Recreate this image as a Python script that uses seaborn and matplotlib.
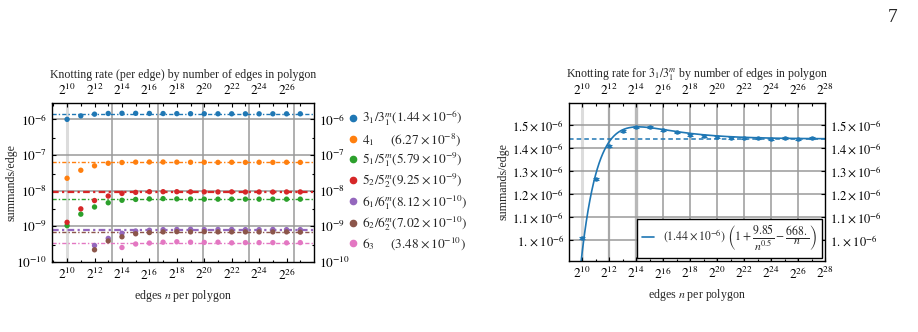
import numpy as np
import pandas as pd
import matplotlib
matplotlib.use('Agg')
import matplotlib.pyplot as plt
import seaborn as sns
from matplotlib.ticker import FixedLocator, FixedFormatter, NullFormatter

# data
exponents = list(range(10, 28))
edges = [2 ** k for k in exponents]

rate_31 = [1.008e-6, 1.264e-6, 1.41e-6, 1.475e-6, 1.493e-6, 1.49e-6, 1.478e-6, 1.468e-6, 1.458e-6,
           1.452e-6, 1.448e-6, 1.445e-6, 1.443e-6, 1.442e-6, 1.441e-6, 1.442e-6, 1.441e-6, 1.442e-6]
rate_41 = [2.24e-8, 3.76e-8, 5.0e-8, 5.9e-8, 6.2e-8, 6.35e-8, 6.4e-8, 6.4e-8, 6.35e-8,
           6.3e-8, 6.3e-8, 6.25e-8, 6.3e-8, 6.25e-8, 6.3e-8, 6.25e-8, 6.3e-8, 6.25e-8]
rate_51 = [1.05e-9, 2.2e-9, 3.5e-9, 4.6e-9, 5.4e-9, 5.7e-9, 5.9e-9, 6.0e-9, 5.9e-9,
           5.85e-9, 5.8e-9, 5.8e-9, 5.8e-9, 5.8e-9, 5.8e-9, 5.8e-9, 5.8e-9, 5.8e-9]
rate_52 = [1.3e-9, 3.1e-9, 5.3e-9, 7.1e-9, 8.4e-9, 9.0e-9, 9.4e-9, 9.4e-9, 9.4e-9,
           9.3e-9, 9.3e-9, 9.25e-9, 9.3e-9, 9.2e-9, 9.25e-9, 9.2e-9, 9.25e-9, 9.25e-9]
rate_61 = [np.nan, np.nan, 2.9e-10, 4.6e-10, 6.4e-10, 7.4e-10, 7.8e-10, 8.1e-10, 8.2e-10,
           8.3e-10, 8.1e-10, 8.2e-10, 8.2e-10, 8.1e-10, 8.1e-10, 8.2e-10, 8.1e-10, 8.1e-10]
rate_62 = [np.nan, np.nan, 2.2e-10, 3.9e-10, 5.1e-10, 6.2e-10, 6.7e-10, 7.0e-10, 7.1e-10,
           7.0e-10, 7.1e-10, 7.0e-10, 7.0e-10, 7.0e-10, 7.0e-10, 7.0e-10, 7.0e-10, 6.9e-10]
rate_63 = [np.nan, np.nan, np.nan, np.nan, 2.55e-10, 3.2e-10, 3.4e-10, 3.6e-10, 3.7e-10,
           3.6e-10, 3.55e-10, 3.6e-10, 3.45e-10, 3.5e-10, 3.5e-10, 3.5e-10, 3.45e-10, 3.5e-10]

knots = [r'$3_1/3_1^m$', r'$4_1$', r'$5_1/5_1^m$', r'$5_2/5_2^m$', r'$6_1/6_1^m$', r'$6_2/6_2^m$', r'$6_3$']
pads = ['', r'$\quad\;\;\,$', '', '', '', '', r'$\quad\;\;\,$']
limits = [1.44e-6, 6.27e-8, 5.79e-9, 9.25e-9, 8.12e-10, 7.02e-10, 3.48e-10]
limit_text = [r'$(1.44\times10^{-6})$', r'$(6.27\times10^{-8})$', r'$(5.79\times10^{-9})$',
              r'$(9.25\times10^{-9})$', r'$(8.12\times10^{-10})$', r'$(7.02\times10^{-10})$',
              r'$(3.48\times10^{-10})$']
series = [rate_31, rate_41, rate_51, rate_52, rate_61, rate_62, rate_63]

# fit parameters from the legend of the right panel
fit_a, fit_b, fit_c = 1.44e-6, 9.85, 668.0

sns.set_style("ticks")
plt.rcParams['font.family'] = ['Liberation Serif', 'DejaVu Serif']
plt.rcParams['mathtext.fontset'] = 'stix'
plt.rcParams['xtick.direction'] = 'in'
plt.rcParams['ytick.direction'] = 'in'
plt.rcParams['font.size'] = 8

colors = sns.color_palette('tab10')

fig = plt.figure(figsize=(9.18, 3.32), dpi=100)
ax1 = fig.add_axes([52 / 918, 1 - 262 / 332, 262 / 918, 159 / 332])
ax2 = fig.add_axes([569 / 918, 1 - 261 / 332, 256 / 918, 158 / 332])

# ---- left panel
rows = []
for name, vals in zip(knots, series):
    for n, v in zip(edges, vals):
        rows.append({'knot': name, 'n': n, 'rate': v})
df = pd.DataFrame(rows).dropna()

for xv in [1e4, 1e5, 1e6, 1e7, 1e8]:
    ax1.axvline(xv, color='#9a9a9a', lw=1.1, zorder=0)
ax1.axvline(1e3, color='#dcdcdc', lw=2.2, zorder=0)
for yv in [1e-6, 1e-7, 1e-8, 1e-9]:
    ax1.axhline(yv, color='#9a9a9a', lw=1.1, zorder=0)

for i, lim in enumerate(limits):
    lw = 1.6 if i in (3, 4) else 1.0
    ax1.axhline(lim, color=colors[i], lw=lw, ls=(0, (3, 1.5, 1, 1.5)), zorder=1)

sns.scatterplot(data=df, x='n', y='rate', hue='knot', palette=colors[:7], s=15,
                edgecolor='none', legend=False, ax=ax1, zorder=3)

ax1.set_xscale('log', base=2)
ax1.set_yscale('log')
ax1.set_xlim(2 ** 8.9, 2 ** 28)
ax1.set_ylim(1e-10, 2.9e-6)
ax1.xaxis.set_major_locator(FixedLocator([2 ** k for k in range(10, 27, 2)]))
ax1.xaxis.set_major_formatter(FixedFormatter([r'$2^{%d}$' % k for k in range(10, 27, 2)]))
ax1.xaxis.set_minor_locator(FixedLocator([2 ** k for k in range(9, 28, 2)]))
ax1.xaxis.set_minor_formatter(NullFormatter())
ax1.yaxis.set_major_locator(FixedLocator([10.0 ** k for k in range(-10, -5)]))
ax1.yaxis.set_major_formatter(FixedFormatter([r'$10^{%d}$' % k for k in range(-10, -5)]))
ax1.yaxis.set_minor_locator(FixedLocator([3 * 10.0 ** k for k in range(-10, -6)]))
ax1.yaxis.set_minor_formatter(NullFormatter())
ax1.tick_params(which='both', top=True, right=True, labeltop=True, labelright=True,
                labelsize=9.5, width=0.8, colors='black')
ax1.tick_params(which='major', length=3)
ax1.tick_params(which='minor', length=1.8)
ax1.set_title('Knotting rate (per edge) by number of edges in polygon', fontsize=8.6, pad=3)
ax1.set_xlabel(r'edges $n$ per polygon', fontsize=8.6, labelpad=4)
ax1.set_ylabel('summands/edge', fontsize=8.6, labelpad=-1)

handles = [plt.Line2D([], [], marker='o', ls='none', color=colors[i], ms=4.5) for i in range(7)]
labels = [k + p + t for k, p, t in zip(knots, pads, limit_text)]
fig.legend(handles, labels, loc='upper left', bbox_to_anchor=(0.376, 0.672), frameon=False,
           borderpad=0, borderaxespad=0, handletextpad=0.1, labelspacing=0.2, fontsize=9.5,
           handlelength=1.2)

# ---- right panel
for xv, c, w in [(2 ** 10, '#dcdcdc', 2.2), (2 ** 12, '#a8a8a8', 1.6), (2 ** 14, '#b8b8b8', 2.4)]:
    ax2.axvline(xv, color=c, lw=w, zorder=0)
for k in range(16, 28, 2):
    ax2.axvline(2 ** k, color='#9a9a9a', lw=1.1, zorder=0)
for yv in [1.0e-6, 1.1e-6, 1.2e-6, 1.3e-6, 1.4e-6, 1.5e-6]:
    ax2.axhline(yv, color='#9a9a9a', lw=1.1, zorder=0)

ax2.axhline(fit_a, color=colors[0], lw=1.1, ls=(0, (3, 2)), zorder=1)

n_fit = np.geomspace(2 ** 9.9, 2 ** 28, 400)
fit_df = pd.DataFrame({'n': n_fit, 'rate': fit_a * (1 + fit_b / np.sqrt(n_fit) - fit_c / n_fit)})
fit_label = (r'$\left(1.44\times10^{-6}\right)\ \left(1+\dfrac{9.85}{n^{0.5}}-\dfrac{668.}{n}\right)$')
sns.lineplot(data=fit_df, x='n', y='rate', color=colors[0], lw=1.2, ax=ax2, label=fit_label, zorder=2)
ax2.errorbar(edges, rate_31, yerr=0.004e-6, fmt='o', ms=2.2, color=colors[0], capsize=2.2,
             elinewidth=0.8, capthick=0.8, zorder=3)

ax2.set_xscale('log', base=2)
ax2.set_xlim(2 ** 9.03, 2 ** 28)
ax2.set_ylim(0.909e-6, 1.596e-6)
ax2.xaxis.set_major_locator(FixedLocator([2 ** k for k in range(10, 29, 2)]))
ax2.xaxis.set_major_formatter(FixedFormatter([r'$2^{%d}$' % k for k in range(10, 29, 2)]))
ax2.xaxis.set_minor_locator(FixedLocator([2 ** k for k in range(11, 28, 2)]))
ax2.xaxis.set_minor_formatter(NullFormatter())
yt = [1.0e-6, 1.1e-6, 1.2e-6, 1.3e-6, 1.4e-6, 1.5e-6]
ax2.yaxis.set_major_locator(FixedLocator(yt))
ax2.yaxis.set_major_formatter(FixedFormatter([r'$1.\times10^{-6}$', r'$1.1\times10^{-6}$',
                                               r'$1.2\times10^{-6}$', r'$1.3\times10^{-6}$',
                                               r'$1.4\times10^{-6}$', r'$1.5\times10^{-6}$']))
ax2.tick_params(which='both', top=True, right=True, labeltop=True, labelright=True,
                labelsize=9.5, width=0.8, colors='black')
ax2.tick_params(axis='y', labelsize=9)
ax2.tick_params(which='major', length=3)
ax2.tick_params(which='minor', length=1.8)
ax2.set_title(r'Knotting rate for $3_1/3_1^m$ by number of edges in polygon', fontsize=8.6, pad=3)
ax2.set_xlabel(r'edges $n$ per polygon', fontsize=8.6, labelpad=4)
ax2.set_ylabel('summands/edge', fontsize=8.6, labelpad=2)
leg = ax2.legend(loc='lower right', fontsize=8.5, frameon=True, fancybox=False, edgecolor='black',
                 framealpha=1, borderaxespad=0.25, handlelength=1.0)
leg.get_frame().set_linewidth(1.0)

for ax in (ax1, ax2):
    for sp in ax.spines.values():
        sp.set_color('black')
        sp.set_linewidth(1.0)

fig.text(893 / 918, 1 - 18 / 332, '7', fontsize=14, ha='center', va='center')

fig.savefig('out.png', dpi=100)
